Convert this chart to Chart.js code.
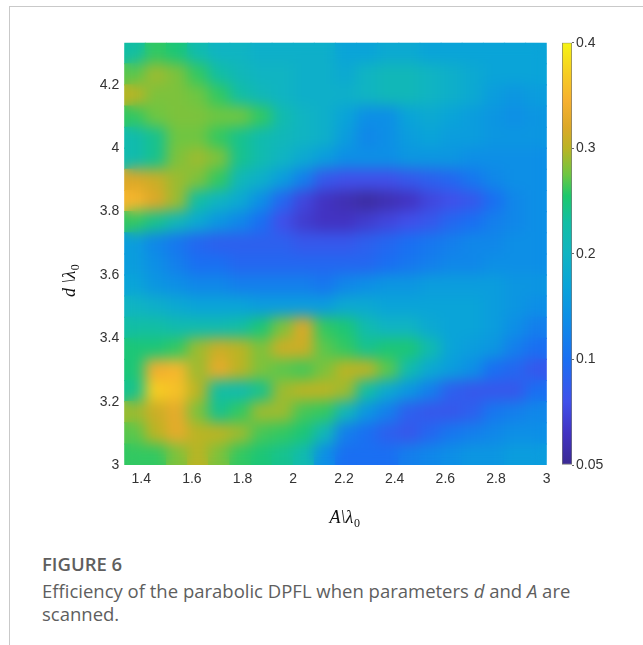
<!DOCTYPE html>
<html lang="en">
<head>
  <meta charset="UTF-8">
  <title>Figure 6 - DPFL efficiency scan</title>
  <script src="https://cdn.jsdelivr.net/npm/chart.js@4.4.1/dist/chart.umd.min.js"></script>
  <style>
    * { margin: 0; padding: 0; box-sizing: border-box; }
    body {
      width: 643px;
      height: 645px;
      position: relative;
      background: #fff;
      overflow: hidden;
      font-family: 'Open Sans', sans-serif;
    }
    .frame-top {
      position: absolute; left: 9px; right: 0; top: 6px;
      height: 1px; background: #c9c9c9;
    }
    .frame-left {
      position: absolute; left: 9px; top: 6px; bottom: 0;
      width: 1px; background: #c9c9c9;
    }
    #heat { position: absolute; left: 0; top: 0; }
    #cbar { position: absolute; left: 540px; top: 0; }
    .caption {
      position: absolute;
      left: 42px;
      top: 552px;
      color: #5e5e5e;
    }
    .caption h3 {
      font-size: 18.5px;
      font-weight: 600;
      line-height: 24px;
    }
    .caption p {
      margin-top: 3px;
      font-size: 18.5px;
      line-height: 23px;
      white-space: nowrap;
    }
  </style>
</head>
<body>
  <div class="frame-top"></div>
  <div class="frame-left"></div>
  <canvas id="heat" width="560" height="545"></canvas>
  <canvas id="cbar" width="100" height="500"></canvas>
  <div class="caption">
    <h3>FIGURE 6</h3>
    <p>Efficiency of the parabolic DPFL when parameters <i>d</i> and <i>A</i> are<br>scanned.</p>
  </div>

  <script>
    // grid of the scan: A/lambda0 (columns) and d/lambda0 (rows, top to bottom)
    const aCenters = [1.375, 1.458, 1.542, 1.625, 1.708, 1.792, 1.875, 1.958, 2.042, 2.125,
                      2.208, 2.292, 2.375, 2.458, 2.542, 2.625, 2.708, 2.792, 2.875, 2.958];
    const dCenters = [4.3, 4.233, 4.167, 4.1, 4.033, 3.967, 3.9, 3.833, 3.767, 3.7,
                      3.633, 3.567, 3.5, 3.433, 3.367, 3.3, 3.233, 3.167, 3.1, 3.033];

    // efficiency (one row per d value)
    const efficiency = [
      [0.23,0.26,0.25,0.22,0.20,0.20,0.19,0.19,0.19,0.19, 0.17,0.17,0.18,0.18,0.17,0.17,0.17,0.17,0.17,0.17],
      [0.27,0.29,0.28,0.26,0.23,0.21,0.20,0.20,0.19,0.19, 0.18,0.20,0.21,0.21,0.20,0.19,0.18,0.17,0.17,0.17],
      [0.30,0.28,0.28,0.275,0.26,0.23,0.21,0.20,0.19,0.19, 0.19,0.20,0.21,0.21,0.20,0.19,0.18,0.16,0.15,0.16],
      [0.26,0.275,0.28,0.28,0.275,0.275,0.26,0.22,0.20,0.19, 0.17,0.14,0.14,0.17,0.18,0.17,0.16,0.15,0.14,0.15],
      [0.22,0.24,0.275,0.275,0.26,0.24,0.22,0.21,0.20,0.19, 0.16,0.13,0.14,0.16,0.17,0.16,0.16,0.15,0.15,0.15],
      [0.22,0.24,0.28,0.29,0.28,0.24,0.22,0.20,0.18,0.16, 0.14,0.14,0.14,0.15,0.15,0.15,0.14,0.14,0.14,0.14],
      [0.32,0.31,0.29,0.28,0.26,0.21,0.19,0.16,0.12,0.07, 0.06,0.06,0.06,0.07,0.08,0.09,0.11,0.13,0.14,0.14],
      [0.35,0.32,0.29,0.23,0.20,0.18,0.14,0.09,0.05,0.03, 0.02,0.01,0.02,0.03,0.05,0.06,0.07,0.10,0.13,0.14],
      [0.26,0.24,0.21,0.18,0.15,0.13,0.10,0.06,0.04,0.03, 0.03,0.04,0.05,0.06,0.07,0.09,0.10,0.12,0.13,0.14],
      [0.16,0.13,0.11,0.09,0.08,0.08,0.08,0.08,0.07,0.07, 0.07,0.08,0.09,0.10,0.11,0.12,0.13,0.13,0.14,0.14],
      [0.16,0.14,0.12,0.10,0.10,0.09,0.09,0.09,0.09,0.09, 0.09,0.09,0.10,0.11,0.12,0.13,0.13,0.14,0.14,0.14],
      [0.17,0.15,0.14,0.13,0.13,0.12,0.12,0.12,0.12,0.11, 0.13,0.14,0.15,0.15,0.16,0.16,0.16,0.16,0.15,0.15],
      [0.20,0.19,0.18,0.17,0.17,0.17,0.16,0.16,0.16,0.16, 0.18,0.18,0.17,0.17,0.17,0.17,0.17,0.16,0.15,0.14],
      [0.23,0.23,0.22,0.22,0.22,0.23,0.25,0.28,0.32,0.26, 0.25,0.22,0.20,0.20,0.18,0.17,0.17,0.16,0.14,0.12],
      [0.25,0.25,0.26,0.29,0.31,0.30,0.28,0.31,0.31,0.27, 0.26,0.24,0.25,0.25,0.22,0.17,0.16,0.15,0.12,0.10],
      [0.25,0.34,0.35,0.29,0.33,0.30,0.28,0.27,0.265,0.28, 0.30,0.30,0.27,0.22,0.18,0.16,0.14,0.10,0.09,0.07],
      [0.24,0.37,0.36,0.30,0.23,0.22,0.24,0.29,0.30,0.30, 0.29,0.23,0.18,0.15,0.12,0.08,0.07,0.07,0.07,0.10],
      [0.29,0.31,0.33,0.28,0.24,0.26,0.29,0.29,0.265,0.26, 0.21,0.15,0.12,0.08,0.07,0.07,0.08,0.11,0.12,0.13],
      [0.27,0.30,0.33,0.30,0.30,0.29,0.265,0.26,0.25,0.21, 0.12,0.10,0.08,0.07,0.09,0.11,0.12,0.13,0.14,0.14],
      [0.26,0.26,0.28,0.30,0.28,0.26,0.25,0.24,0.22,0.14, 0.10,0.10,0.10,0.12,0.13,0.14,0.15,0.15,0.16,0.16]
    ];

    const aTicks = [1.4, 1.6, 1.8, 2.0, 2.2, 2.4, 2.6, 2.8, 3.0];
    const aTickLabels = ['1.4', '1.6', '1.8', '2', '2.2', '2.4', '2.6', '2.8', '3'];
    const dTicks = [3.0, 3.2, 3.4, 3.6, 3.8, 4.0, 4.2];
    const dTickLabels = ['3', '3.2', '3.4', '3.6', '3.8', '4', '4.2'];
    const cbTicks = [0, 0.1, 0.2, 0.3, 0.4];
    const cbTickLabels = ['0.05', '0.1', '0.2', '0.3', '0.4'];

    // colour bar look-up (value on colour-bar axis -> colour)
    const cmap = [
      [0.00, '#3b2a92'], [0.03, '#4233c2'], [0.06, '#4050ea'], [0.10, '#1a6ff2'],
      [0.14, '#0d8fe6'], [0.17, '#0aa4d8'], [0.20, '#10b4c2'], [0.23, '#12bea4'],
      [0.255, '#1ec86c'], [0.275, '#6ec642'], [0.30, '#bab424'], [0.32, '#dca828'],
      [0.345, '#f6b030'], [0.37, '#f6cc22'], [0.40, '#f6f414']
    ];

    function hexRgb(h) {
      return [parseInt(h.slice(1, 3), 16), parseInt(h.slice(3, 5), 16), parseInt(h.slice(5, 7), 16)];
    }
    function colorFor(v) {
      if (v <= cmap[0][0]) return cmap[0][1];
      for (let i = 1; i < cmap.length; i++) {
        if (v <= cmap[i][0]) {
          const [v0, c0] = cmap[i - 1], [v1, c1] = cmap[i];
          const t = (v - v0) / (v1 - v0);
          const a = hexRgb(c0), b = hexRgb(c1);
          return `rgb(${a.map((x, k) => Math.round(x + (b[k] - x) * t)).join(',')})`;
        }
      }
      return cmap[cmap.length - 1][1];
    }

    const cells = [];
    dCenters.forEach((d, r) => {
      aCenters.forEach((a, c) => cells.push({ x: a, y: d, v: efficiency[r][c] }));
    });

    Chart.defaults.font.family = "'Liberation Sans', Arial, sans-serif";
    Chart.defaults.color = '#333';

    function cellRadius(chart) {
      const xs = chart.scales.x;
      const half = Math.abs(xs.getPixelForValue(aCenters[1]) - xs.getPixelForValue(aCenters[0])) / 2;
      return (half + 0.6) * Math.SQRT2;
    }

    // soften the cell edges so it reads like the filled contour
    const smoothPlugin = {
      id: 'smooth',
      afterDatasetsDraw(chart) {
        const { ctx, chartArea: a, canvas } = chart;
        const tmp = document.createElement('canvas');
        tmp.width = canvas.width;
        tmp.height = canvas.height;
        tmp.getContext('2d').drawImage(canvas, 0, 0);
        ctx.save();
        ctx.beginPath();
        ctx.rect(a.left, a.top, a.right - a.left, a.bottom - a.top);
        ctx.clip();
        ctx.filter = 'blur(7px)';
        ctx.drawImage(tmp, a.left, a.top, a.right - a.left, a.bottom - a.top,
                      a.left, a.top, a.right - a.left, a.bottom - a.top);
        ctx.restore();
      }
    };

    function drawSubLabel(ctx, main, sub, cx, base) {
      ctx.font = "italic 18px 'Liberation Serif', 'Times New Roman', serif";
      const w1 = ctx.measureText(main).width;
      ctx.font = "12px 'Liberation Serif', 'Times New Roman', serif";
      const w2 = ctx.measureText(sub).width;
      const x0 = cx - (w1 + w2) / 2;
      ctx.textAlign = 'left';
      ctx.textBaseline = 'alphabetic';
      ctx.font = "italic 18px 'Liberation Serif', 'Times New Roman', serif";
      ctx.fillText(main, x0, base);
      ctx.font = "12px 'Liberation Serif', 'Times New Roman', serif";
      ctx.fillText(sub, x0 + w1 + 0.5, base + 4);
    }

    const titlesPlugin = {
      id: 'titles',
      afterDraw(chart) {
        const { ctx, chartArea: a } = chart;
        ctx.save();
        ctx.fillStyle = '#111';
        drawSubLabel(ctx, 'A\\λ', '0', (a.left + a.right) / 2 + 9, a.bottom + 58);
        ctx.translate(a.left - 49, (a.top + a.bottom) / 2 + 27);
        ctx.rotate(-Math.PI / 2);
        drawSubLabel(ctx, 'd \\λ', '0', 0, 0);
        ctx.restore();
      }
    };

    new Chart(document.getElementById('heat'), {
      type: 'scatter',
      data: {
        datasets: [{
          data: cells,
          pointStyle: 'rect',
          pointRadius: ctx => cellRadius(ctx.chart),
          pointHoverRadius: ctx => cellRadius(ctx.chart),
          pointBorderWidth: 0,
          pointHoverBorderWidth: 0,
          pointBackgroundColor: ctx => colorFor(ctx.raw ? ctx.raw.v : 0.2),
          pointHoverBackgroundColor: ctx => colorFor(ctx.raw ? ctx.raw.v : 0.2)
        }]
      },
      options: {
        responsive: false,
        animation: false,
        events: [],
        layout: { padding: { left: 74.3, top: 42.7, right: 13.3, bottom: 50 } },
        plugins: { legend: { display: false }, tooltip: { enabled: false } },
        scales: {
          x: {
            type: 'linear',
            min: 1.3333,
            max: 3,
            grid: { display: false, drawTicks: false },
            border: { display: false },
            afterBuildTicks: s => { s.ticks = aTicks.map(v => ({ value: v })); },
            afterFit: s => { s.height = 30; },
            ticks: {
              padding: 6,
              maxRotation: 0,
              autoSkip: false,
              font: { size: 14 },
              callback: (v, i) => aTickLabels[i]
            }
          },
          y: {
            type: 'linear',
            min: 3,
            max: 4.3333,
            grid: { display: false, drawTicks: false },
            border: { display: false },
            afterBuildTicks: s => { s.ticks = dTicks.map(v => ({ value: v })); },
            afterFit: s => { s.width = 50; },
            ticks: {
              padding: 5,
              autoSkip: false,
              font: { size: 14 },
              callback: (v, i) => dTickLabels[i]
            }
          }
        }
      },
      plugins: [smoothPlugin, titlesPlugin]
    });

    // colour bar
    new Chart(document.getElementById('cbar'), {
      type: 'bar',
      data: {
        labels: [''],
        datasets: [{
          data: [[cbTicks[0], cbTicks[cbTicks.length - 1]]],
          barPercentage: 1,
          categoryPercentage: 1,
          borderWidth: 1,
          borderColor: '#777',
          borderSkipped: false,
          backgroundColor: ctx => {
            const ys = ctx.chart.scales.y;
            if (!ys || !ctx.chart.chartArea) return '#10b4c2';
            const g = ctx.chart.ctx.createLinearGradient(0, ys.getPixelForValue(0), 0, ys.getPixelForValue(0.4));
            cmap.forEach(([v, c]) => g.addColorStop(v / 0.4, c));
            return g;
          }
        }]
      },
      options: {
        responsive: false,
        animation: false,
        events: [],
        layout: { padding: { left: 22, top: 42.7, right: 28, bottom: 35 } },
        plugins: { legend: { display: false }, tooltip: { enabled: false } },
        scales: {
          x: { display: false },
          y: {
            position: 'right',
            min: 0,
            max: 0.4,
            grid: { display: true, drawOnChartArea: false, tickLength: 2, color: '#666' },
            border: { display: false },
            afterBuildTicks: s => { s.ticks = cbTicks.map(v => ({ value: v })); },
            afterFit: s => { s.width = 40; },
            ticks: {
              padding: 2,
              autoSkip: false,
              font: { size: 14 },
              callback: (v, i) => cbTickLabels[i]
            }
          }
        }
      }
    });
  </script>
</body>
</html>
